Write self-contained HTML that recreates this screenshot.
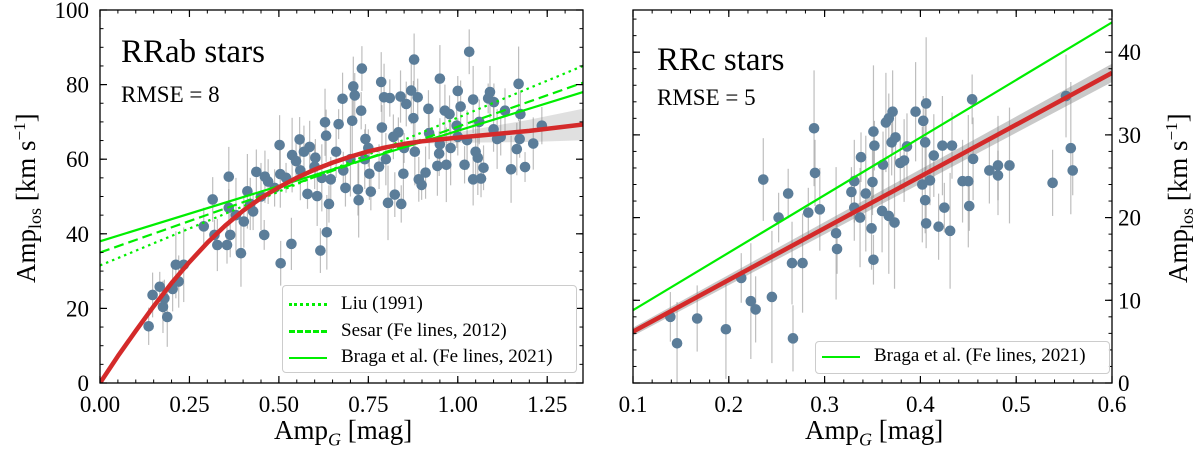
<!DOCTYPE html>
<html><head><meta charset="utf-8"><style>
html,body{margin:0;padding:0;background:#fff;}
svg{display:block;font-family:"Liberation Serif",serif;}
.ov, .ov div, .ov span{font-family:"Liberation Serif",serif;}
</style></head><body>
<svg id="chart" width="1200" height="452" viewBox="0 0 1200 452" xmlns="http://www.w3.org/2000/svg"></svg>
<script>
// ---------- LEFT PANEL DATA (RRab) ----------
const abAmpG = [0.136,0.147,0.167,0.176,0.18,0.188,0.203,0.212,0.22,0.234,0.29,0.315,0.32,0.328,0.355,0.36,0.364,0.394,0.402,0.412,0.428,0.437,0.459,0.461,0.488,0.502,0.505,0.504,0.535,0.537,0.548,0.558,0.58,0.586,0.602,0.607,0.616,0.629,0.632,0.634,0.64,0.645,0.667,0.678,0.686,0.708,0.712,0.705,0.721,0.723,0.73,0.732,0.742,0.753,0.757,0.786,0.788,0.794,0.799,0.805,0.81,0.824,0.834,0.84,0.842,0.848,0.856,0.87,0.878,0.876,0.888,0.891,0.899,0.91,0.918,0.943,0.948,0.95,0.964,0.968,0.977,0.997,1.0,1.008,1.019,1.026,1.032,1.043,1.043,1.056,1.065,1.072,1.085,1.09,1.101,1.11,1.132,1.149,1.165,1.17,1.173,1.175,1.188,1.211,1.235,0.56,0.6,0.62,0.66,0.7,0.75,0.78,0.85,0.95,1.0,1.05,1.1,0.45,0.42,0.38,0.36,0.47,0.52,0.57,0.68,0.74,0.82,0.88,0.92,0.98,1.12,1.06];
const abAmpLos = [15.2,23.6,25.8,20.4,22.7,17.7,25.2,31.7,27.2,31.7,42,49.2,39.7,37,37,55.3,39.7,34.8,43.3,51.4,46,56.6,39.7,55.3,52.3,63.8,32.1,56,37.3,61.1,59.5,65.3,50.7,63.3,60.4,50.1,35.5,69.9,66.3,40.4,48,54.6,69.4,76.2,52.3,79.5,77.1,70.3,51.9,49,73,84.3,65.4,56.1,51.3,80.7,68.5,76.6,60,48.3,76.4,50.5,67.2,76.8,48,56.1,74.8,78.4,86.7,71,76.6,54.6,53.1,56.4,73.5,58.2,61.5,81.6,73,58.5,72.1,69,78.3,74.1,58.5,65.1,88.8,76,54.6,60.4,54.8,57.7,76.3,78,75.3,65.4,73,57.3,62.7,80.2,65.4,72.1,57.9,64.2,69,57,58,55,62,60,63,58,63,64,66,62,68,50,48,45,47,54,55,62,57,60,66,62,67,63,66,70];
const abErr = [5,6,4,7,5,8,6,9,7,10];
const abFitX = [0,0.05,0.1,0.15,0.2,0.25,0.3,0.35,0.4,0.45,0.5,0.55,0.6,0.65,0.7,0.75,0.8,0.85,0.9,0.95,1.0,1.1,1.2,1.35];
const abFitY = [0,7.2,14,20.6,26.8,32.4,37.6,42.2,46.2,49.6,52.5,55,57.2,59.1,60.7,62.1,63.2,64.1,64.8,65.3,65.8,66.7,67.6,69.3];
const abLiu = [31.5,85];
const abSesar = [35,80.5];
const abBraga = [38,78];
// ---------- RIGHT PANEL DATA (RRc) ----------
const cAmpG = [0.139,0.146,0.167,0.197,0.213,0.223,0.228,0.236,0.245,0.252,0.262,0.266,0.267,0.277,0.283,0.289,0.29,0.295,0.312,0.313,0.328,0.331,0.331,0.337,0.338,0.343,0.35,0.349,0.351,0.351,0.352,0.36,0.361,0.364,0.367,0.367,0.37,0.371,0.373,0.374,0.379,0.383,0.386,0.395,0.403,0.402,0.405,0.405,0.406,0.406,0.41,0.414,0.419,0.423,0.425,0.431,0.433,0.444,0.45,0.451,0.454,0.455,0.472,0.481,0.481,0.493,0.538,0.552,0.557,0.559];
const cAmpLos = [8,4.8,7.8,6.5,12.7,9.9,8.9,24.6,10.4,20,22.9,14.5,5.4,14.5,20.6,30.8,25.4,21,18.1,16.2,23.1,24.4,21.2,20,27.3,22.9,24.3,18.7,30.4,14.9,28.7,20.8,26.4,31.5,32,20.2,29.1,32.8,19.4,29.7,26.6,26.9,28.6,32.8,31.7,24,22.1,29.1,33.8,19.3,24.5,27.5,18.9,28.7,21.2,18.4,28.7,24.4,24.4,21.4,34.3,27.1,25.7,26.3,25.1,26.3,24.2,34.7,28.4,25.7];
const cErr = [3,5,4,6,3,7,4,5,8,3];
const cFitX = [0.1,0.6];
const cFitY = [6.2,37.5];
const cBraga = [8.8,43.6];

const NS = "http://www.w3.org/2000/svg";
const svg = document.getElementById("chart");
function mk(tag, attrs, parent){
  const e = document.createElementNS(NS, tag);
  for (const k in attrs) e.setAttribute(k, attrs[k]);
  (parent||svg).appendChild(e);
  return e;
}
const L = {x0:100,x1:583,y0:383,y1:10,xmin:0,xmax:1.35,ymin:0,ymax:100};
const R = {x0:633,x1:1112,y0:383,y1:10,xmin:0.1,xmax:0.6,ymin:0,ymax:45.1};
function sx(p,v){return p.x0+(v-p.xmin)/(p.xmax-p.xmin)*(p.x1-p.x0);}
function sy(p,v){return p.y0-(v-p.ymin)/(p.ymax-p.ymin)*(p.y0-p.y1);}

function clip(p,id){
  const d = mk("clipPath",{id:id});
  mk("rect",{x:p.x0,y:p.y1,width:p.x1-p.x0,height:p.y0-p.y1},d);
}
clip(L,"clipL"); clip(R,"clipR");

function scatter(p,xs,ys,errs,clipId,name){
  const g = mk("g",{"clip-path":"url(#"+clipId+")"});
  
  
  for(let i=0;i<xs.length;i++){
    const e = errs[i%errs.length];
    const ln = mk("line",{x1:sx(p,xs[i]),x2:sx(p,xs[i]),y1:sy(p,ys[i]-e),y2:sy(p,ys[i]+e),stroke:"#888","stroke-opacity":0.55,"stroke-width":1.2},g);
    
    
  }
}
function points(p,xs,ys,clipId,name){
  const g = mk("g",{"clip-path":"url(#"+clipId+")"});
  
  
  for(let i=0;i<xs.length;i++){
    const c = mk("circle",{cx:sx(p,xs[i]),cy:sy(p,ys[i]),r:5.3,fill:"#5b7d99"},g);
    
    
  }
}
function polyline(p,xs,ys,attrs,clipId){
  let d="";
  for(let i=0;i<xs.length;i++) d+=(i?"L":"M")+sx(p,xs[i]).toFixed(1)+","+sy(p,ys[i]).toFixed(1);
  attrs.d=d; attrs.fill="none"; attrs["clip-path"]="url(#"+clipId+")";
  return mk("path",attrs);
}

function axes(p,name,xticks,xminor,xfmt,yticks,yminor,ylabelsRight){
  const g = mk("g",{});
  
  
  mk("rect",{x:p.x0,y:p.y1,width:p.x1-p.x0,height:p.y0-p.y1,fill:"none",stroke:"#000","stroke-width":1.3},g);
  xminor.forEach(v=>{const X=sx(p,v);
    mk("line",{x1:X,x2:X,y1:p.y0,y2:p.y0-3.5,stroke:"#000"},g);
    mk("line",{x1:X,x2:X,y1:p.y1,y2:p.y1+3.5,stroke:"#000"},g);});
  yminor.forEach(v=>{const Y=sy(p,v);
    mk("line",{x1:p.x0,x2:p.x0+3.5,y1:Y,y2:Y,stroke:"#000"},g);
    mk("line",{x1:p.x1,x2:p.x1-3.5,y1:Y,y2:Y,stroke:"#000"},g);});
  xticks.forEach(v=>{const X=sx(p,v);
    mk("line",{x1:X,x2:X,y1:p.y0,y2:p.y0-7,stroke:"#000","stroke-width":1.2},g);
    mk("line",{x1:X,x2:X,y1:p.y1,y2:p.y1+7,stroke:"#000","stroke-width":1.2},g);
    const t=mk("text",{x:X,y:p.y0+29,"text-anchor":"middle","font-size":23},g);
    t.textContent=xfmt(v);
    
    });
  yticks.forEach(v=>{const Y=sy(p,v);
    mk("line",{x1:p.x0,x2:p.x0+7,y1:Y,y2:Y,stroke:"#000","stroke-width":1.2},g);
    mk("line",{x1:p.x1,x2:p.x1-7,y1:Y,y2:Y,stroke:"#000","stroke-width":1.2},g);
    const t=mk("text",ylabelsRight?{x:p.x1+6,y:Y+8,"text-anchor":"start","font-size":23}:{x:p.x0-11,y:Y+8,"text-anchor":"end","font-size":23},g);
    t.textContent=String(v);
    
    });
}
function range(a,b,s){const r=[];for(let v=a;v<=b+1e-9;v+=s)r.push(+v.toFixed(4));return r;}

// ----- LEFT PANEL -----
(function(){
  const up=[],lo=[];
  for(let i=0;i<abFitX.length;i++){const w=abFitX[i]>0.9?0.6+(abFitX[i]-0.9)*8:0.6;up.push(abFitY[i]+w);lo.push(abFitY[i]-w);}
  const xs=abFitX.concat(abFitX.slice().reverse()), ys=up.concat(lo.slice().reverse());
  const f=polyline(L,xs,ys,{stroke:"none"},"clipL"); f.setAttribute("fill","#999"); f.setAttribute("fill-opacity","0.3");
  
  
})();
scatter(L,abAmpG,abAmpLos,abErr,"clipL","rrab");
points(L,abAmpG,abAmpLos,"clipL","rrab");
let ln;
ln=polyline(L,[0,1.35],abLiu,{stroke:"#00ee00","stroke-width":2.2,"stroke-dasharray":"2.5,4"},"clipL");


ln=polyline(L,[0,1.35],abSesar,{stroke:"#00ee00","stroke-width":2.2,"stroke-dasharray":"10,5"},"clipL");


ln=polyline(L,[0,1.35],abBraga,{stroke:"#00ee00","stroke-width":2.2},"clipL");


ln=polyline(L,abFitX,abFitY,{stroke:"#d42a2a","stroke-width":4.5,"stroke-linejoin":"round"},"clipL");


axes(L,"left",range(0,1.25,0.25),range(0,1.35,0.05),v=>v.toFixed(2),range(0,100,20),range(0,100,5),false);

// ----- RIGHT PANEL -----
(function(){
  const f=polyline(R,[0.1,0.6,0.6,0.1],[cFitY[0]+0.5,cFitY[1]+1.1,cFitY[1]-1.1,cFitY[0]-0.5],{stroke:"none"},"clipR");
  f.setAttribute("fill","#777"); f.setAttribute("fill-opacity","0.4");
  
  
})();
scatter(R,cAmpG,cAmpLos,cErr,"clipR","rrc");
points(R,cAmpG,cAmpLos,"clipR","rrc");
ln=polyline(R,[0.1,0.6],cBraga,{stroke:"#00ee00","stroke-width":2.2},"clipR");


ln=polyline(R,cFitX,cFitY,{stroke:"#d42a2a","stroke-width":4.5},"clipR");


axes(R,"right",range(0.1,0.6,0.1),range(0.1,0.6,0.02),v=>v.toFixed(1),range(0,40,10),range(0,44,2),true);
</script>
<div class="ov" style="position:absolute;left:0;top:0;width:1200px;height:452px;pointer-events:none;color:#000;">
  <div style="position:absolute;left:121px;top:34px;font-size:33px;">RRab stars</div>
  <div style="position:absolute;left:121px;top:82px;font-size:23px;">RMSE = 8</div>
  <div style="position:absolute;left:657px;top:42px;font-size:33px;">RRc stars</div>
  <div style="position:absolute;left:657px;top:85px;font-size:23px;">RMSE = 5</div>
  <div style="position:absolute;left:274px;top:415px;font-size:27px;white-space:nowrap;">Amp<sub style="font-size:18px;font-style:italic;">G</sub> [mag]</div>
  <div style="position:absolute;left:805px;top:415px;font-size:27px;white-space:nowrap;">Amp<sub style="font-size:18px;font-style:italic;">G</sub> [mag]</div>
  <div style="position:absolute;left:-82px;top:180px;width:220px;text-align:center;font-size:27px;white-space:nowrap;transform:rotate(-90deg);">Amp<sub style="font-size:18px;">los</sub> [km s<sup style="font-size:17px;">−1</sup>]</div>
  <div style="position:absolute;left:1070px;top:180px;width:220px;text-align:center;font-size:27px;white-space:nowrap;transform:rotate(-90deg);">Amp<sub style="font-size:18px;">los</sub> [km s<sup style="font-size:17px;">−1</sup>]</div>
  <div style="position:absolute;left:282px;top:285px;width:293px;height:86px;border:1px solid #ccc;border-radius:4px;background:rgba(255,255,255,0.85);font-size:19px;">
    <div style="position:absolute;left:6px;top:7px;white-space:nowrap;"><span style="display:inline-block;width:38px;border-top:3px dotted #00ee00;vertical-align:middle;margin-right:14px;"></span>Liu (1991)</div>
    <div style="position:absolute;left:6px;top:34px;white-space:nowrap;"><span style="display:inline-block;width:38px;border-top:3px dashed #00ee00;vertical-align:middle;margin-right:14px;"></span>Sesar (Fe lines, 2012)</div>
    <div style="position:absolute;left:6px;top:60px;white-space:nowrap;"><span style="display:inline-block;width:38px;border-top:2.5px solid #00ee00;vertical-align:middle;margin-right:14px;"></span>Braga et al. (Fe lines, 2021)</div>
  </div>
  <div style="position:absolute;left:815px;top:341px;width:293px;height:31px;border:1px solid #ccc;border-radius:4px;background:rgba(255,255,255,0.85);font-size:19px;">
    <div style="position:absolute;left:6px;top:3px;white-space:nowrap;"><span style="display:inline-block;width:38px;border-top:2.5px solid #00ee00;vertical-align:middle;margin-right:14px;"></span>Braga et al. (Fe lines, 2021)</div>
  </div>
</div>
</body></html>
